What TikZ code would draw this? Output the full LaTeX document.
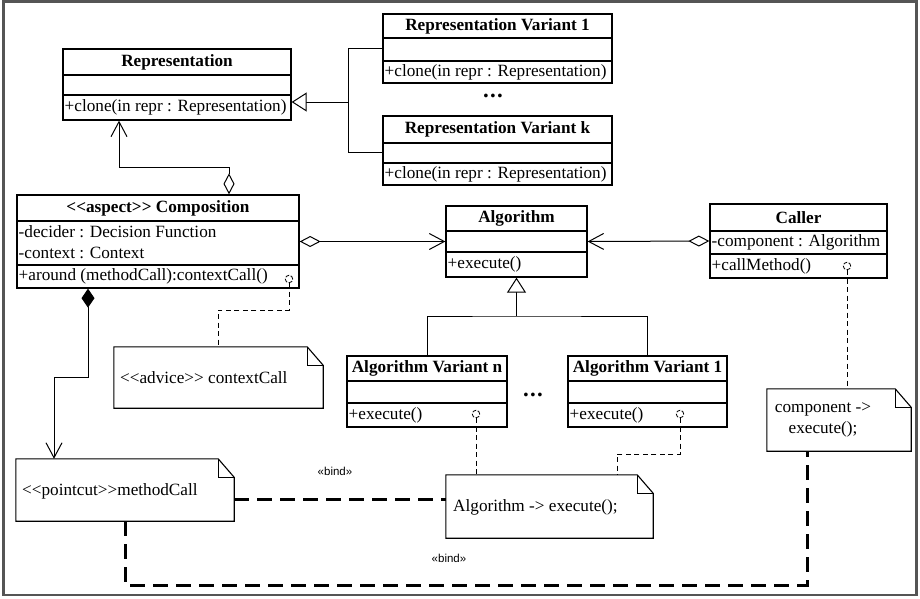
\documentclass[tikz,border=0pt]{standalone}
\usepackage{fontspec}
\setmainfont{Liberation Serif}[Ligatures=TeXOff]
\newfontfamily\bindfont{Liberation Sans}
\usetikzlibrary{arrows.meta,fit}

\definecolor{framegray}{RGB}{85,85,85}

\tikzset{
  classbox/.style={draw=black, line width=1.3pt, inner sep=0pt},
  compline/.style={draw=black, line width=1.3pt},
  ctitle/.style={font=\fontsize{17.2}{20.6}\selectfont\bfseries, inner sep=0pt},
  cmember/.style={font=\fontsize{17.2}{20.6}\selectfont, inner sep=0pt, anchor=west},
  notebox/.style={inner sep=0pt},
  noteline/.style={draw=black, line width=1.1pt},
  notetext/.style={font=\fontsize{17.2}{20.6}\selectfont, inner sep=0pt},
  link/.style={draw=black, line width=1pt},
  anchorline/.style={draw=black, line width=1pt, dash pattern=on 5pt off 3.5pt},
  bindline/.style={draw=black, line width=3pt, dash pattern=on 15pt off 8pt},
  bindlabel/.style={font=\bindfont\fontsize{11.5}{13}\selectfont, inner sep=0pt},
  dots/.style={font=\fontsize{23}{26}\selectfont\bfseries, inner sep=0pt},
  port/.style={circle, draw=black, line width=0.8pt, minimum size=7.5pt,
    inner sep=0pt, dash pattern=on 4pt off 1.6pt},
  assoc/.tip={Straight Barb[length=15pt,width=16pt]},
  inherit/.tip={Triangle[open,fill=white,length=15pt,width=19pt]},
  aggr/.tip={Diamond[open,fill=white,length=21pt,width=11pt]},
  compo/.tip={Diamond[length=19pt,width=13pt]},
}

% class box: name, x1, x2, y1, y2, y3, y4, title
\newcommand\umlclass[8]{%
  \node[classbox, fit={(#2,#4) (#3,#7)}] (#1) {};
  \draw[compline] (#2,#5) -- (#3,#5) (#2,#6) -- (#3,#6);
  \node[ctitle] (#1-title) at ({(#2+#3)/2},{(#4+#5)/2}) {#8};
}

% note with folded corner: name, x1, y1, x2, y2
\newcommand\umlnote[5]{%
  \node[notebox, fit={(#2,#3) (#4,#5)}] (#1) {};
  \draw[noteline, fill=white] (#1.north west) -- ([xshift=-16pt]#1.north east)
    -- ([yshift=-18.5pt]#1.north east) -- (#1.south east) -- (#1.south west) -- cycle;
  \draw[noteline] ([xshift=-16pt]#1.north east) |- ([yshift=-18.5pt]#1.north east);
}

\begin{document}
\begin{tikzpicture}[x=1pt,y=-1pt]
\useasboundingbox (0,0) rectangle (920,598);
\draw[framegray, line width=2.5pt] (3.5,1.5) rectangle (916.5,595);

% ---- classes ----
\umlclass{rep}{63}{291}{49}{75}{95}{120}{Representation}
\node[cmember] (rep-op) at (64.5,107.5) {+clone(in repr : Representation)};

\umlclass{rv1}{383}{612}{14}{38}{61}{83}{Representation Variant 1}
\node[cmember] (rv1-op) at (384.5,72) {+clone(in repr : Representation)};

\umlclass{rvk}{383}{612}{116}{143}{163}{185}{Representation Variant k}
\node[cmember] (rvk-op) at (384.5,174) {+clone(in repr : Representation)};

\node[dots] (rep-dots) at (493,96) {.\kern1.2pt.\kern1.2pt.};

\umlclass{comp}{17}{299}{195}{221}{265}{288}{<<aspect>> Composition}
\node[cmember] (comp-a1) at (18.5,232) {-decider : Decision Function};
\node[cmember] (comp-a2) at (18.5,253) {-context : Context};
\node[cmember] (comp-op) at (18.5,276.5) {+around (methodCall):contextCall()};

\umlclass{alg}{446}{587}{206}{231}{252}{277}{Algorithm}
\node[cmember] (alg-op) at (447.5,264.5) {+execute()};

\umlclass{caller}{710}{887}{204}{231}{254}{278}{Caller}
\node[cmember] (caller-a1) at (711.5,242.5) {-component : Algorithm};
\node[cmember] (caller-op) at (711.5,266) {+callMethod()};

\umlclass{avn}{347}{507}{356}{381}{403}{427}{Algorithm Variant n}
\node[cmember] (avn-op) at (348.5,415) {+execute()};

\umlclass{av1}{568}{727}{356}{381}{403}{427}{Algorithm Variant 1}
\node[cmember] (av1-op) at (569.5,415) {+execute()};

\node[dots] (alg-dots) at (533,395) {.\kern1.2pt.\kern1.2pt.};

% ---- notes ----
\umlnote{advice}{114}{347}{323}{408}
\node[notetext, anchor=west] (advice-text) at (120,378) {<<advice>> contextCall};

\umlnote{pc}{16}{459}{234}{521}
\node[notetext, anchor=west] (pc-text) at (22,491) {<<pointcut>>methodCall};

\umlnote{aen}{446}{475}{653}{538}
\node[notetext, anchor=west] (aen-text) at (453,507) {Algorithm -> execute();};

\umlnote{cnote}{767}{389}{911}{451}
\node[notetext, align=center] (cnote-text) at (823,420) {component ->\\execute();};

% ---- ports on operations ----
\node[port] (comp-port) at (289,279) {};
\node[port] (caller-port) at (847,266) {};
\node[port] (avn-port) at (476,414) {};
\node[port] (av1-port) at (680,414) {};

% ---- generalization of Representation ----
\coordinate (repj) at (348,102);
\draw[link] (rv1.west) -| (repj);
\draw[link] (rvk.west |- 0,152) -| (repj);
\draw[link, -inherit] (repj) -- (rep.east |- repj);

% ---- Composition aggregates Representation ----
\coordinate (cr1) at (229,167);
\coordinate (cr2) at (119,167);
\draw[link, aggr-assoc] (comp.north -| cr1) -- (cr1) -- (cr2) -- (rep.south -| cr2);

% ---- aggregations to Algorithm ----
\draw[link, aggr-assoc] (comp.east) -- (alg.west);
\draw[link, aggr-assoc] (caller.west) -- (alg.east);

% ---- generalization of Algorithm ----
\coordinate (algj) at (516.5,316);
\draw[link] (avn.north) |- (algj) -| (av1.north);
\draw[link, -inherit] (algj) -- (alg.south);

% ---- Composition composes the pointcut ----
\coordinate (cp1) at (88,377);
\coordinate (cp2) at (54,377);
\draw[link, compo-assoc] (comp.south -| cp1) -- (cp1) -- (cp2) -- (pc.north -| cp2);

% ---- note anchors ----
\coordinate (ad1) at (289,310);
\coordinate (ad2) at (218,310);
\draw[anchorline] (comp-port) -- (ad1) -- (ad2) -- (advice.north -| ad2);
\draw[anchorline] (caller-port) -- (cnote.north -| caller-port);
\draw[anchorline] (avn-port) -- (aen.north -| avn-port);
\coordinate (ae1) at (680,454);
\coordinate (ae2) at (617,454);
\draw[anchorline] (av1-port) -- (ae1) -- (ae2) -- (aen.north -| ae2);

% ---- bindings ----
\coordinate (b1) at (234,499);
\draw[bindline] (pc.east |- b1) -- (aen.west |- b1);
\coordinate (b2) at (125,585);
\coordinate (b3) at (807,585);
\draw[bindline] (pc.south -| b2) -- (b2) -- (b3) -- (cnote.south -| b3);

\node[bindlabel] (bind1) at (335,471) {«bind»};
\node[bindlabel] (bind2) at (449,558) {«bind»};
\end{tikzpicture}
\end{document}
